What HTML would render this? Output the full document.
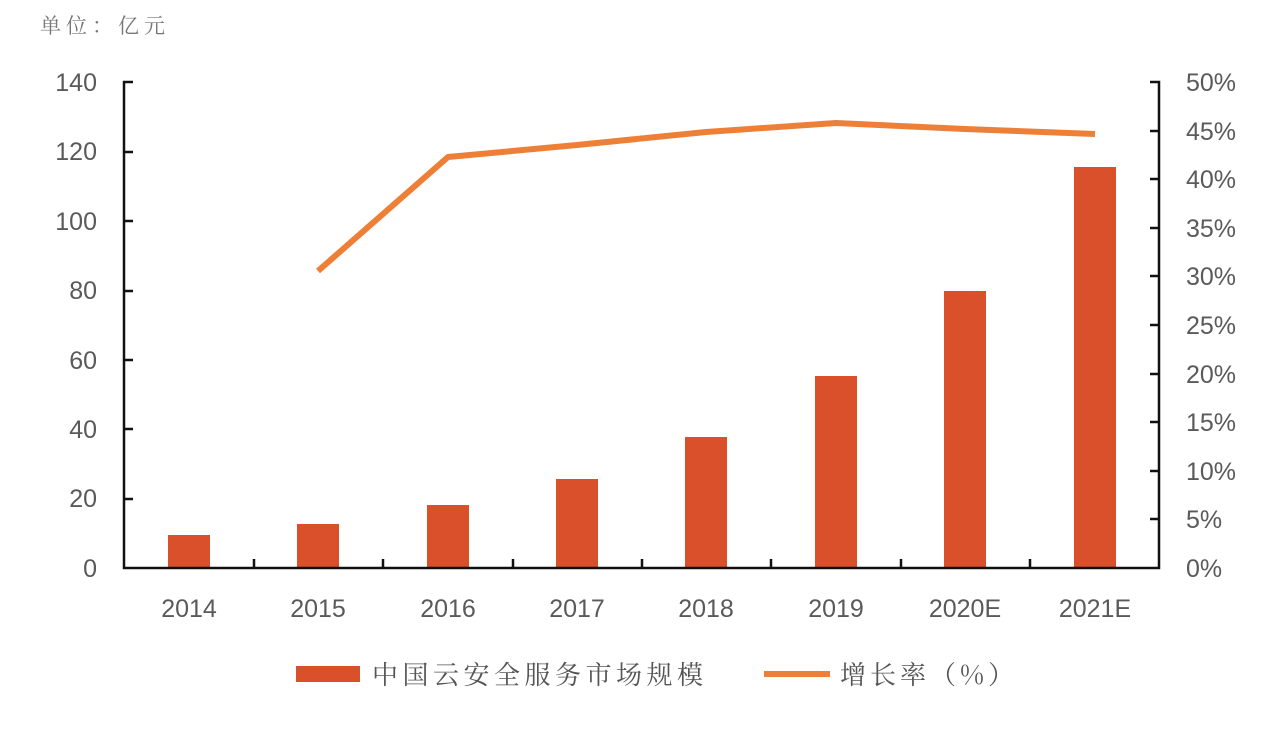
<!DOCTYPE html>
<html><head><meta charset="utf-8"><style>body{margin:0;background:#fff}svg{display:block}</style></head>
<body>
<svg width="1278" height="732" xmlns="http://www.w3.org/2000/svg" font-family="Liberation Sans, 'Noto Sans CJK SC', sans-serif">
<text x="40" y="33" font-size="21" letter-spacing="5" fill="#777" font-family="'Noto Serif CJK SC','Noto Sans CJK SC',serif">单位：亿元</text>
<g fill="#5a5a5a" font-size="25" text-anchor="end">
<text x="97" y="91">140</text><text x="97" y="160">120</text><text x="97" y="230">100</text>
<text x="97" y="299">80</text><text x="97" y="369">60</text><text x="97" y="438">40</text>
<text x="97" y="507">20</text><text x="97" y="577">0</text>
</g>
<g fill="#5a5a5a" font-size="25" text-anchor="start">
<text x="1186" y="91">50%</text><text x="1186" y="140">45%</text><text x="1186" y="188">40%</text>
<text x="1186" y="237">35%</text><text x="1186" y="285">30%</text><text x="1186" y="334">25%</text>
<text x="1186" y="383">20%</text><text x="1186" y="431">15%</text><text x="1186" y="480">10%</text>
<text x="1186" y="528">5%</text><text x="1186" y="577">0%</text>
</g>
<g fill="#D9502A">
<rect x="168" y="535" width="42" height="33"/>
<rect x="297" y="524" width="42" height="44"/>
<rect x="427" y="505" width="42" height="63"/>
<rect x="556" y="479" width="42" height="89"/>
<rect x="685" y="437" width="42" height="131"/>
<rect x="815" y="376" width="42" height="192"/>
<rect x="944" y="291" width="42" height="277"/>
<rect x="1074" y="167" width="42" height="401"/>
</g>
<polyline points="318,271 448,157 577,145 706,132 836,123 965,129 1095,134" fill="none" stroke="#EE7F36" stroke-width="6" stroke-linejoin="round"/>
<g stroke="#111" stroke-width="2.5" fill="none">
<path d="M133,82H124V568H1159V82H1150"/>
<path d="M124,152h9M124,221h9M124,291h9M124,360h9M124,429h9M124,499h9"/>
<path d="M1159,131h-9M1159,179h-9M1159,228h-9M1159,276h-9M1159,325h-9M1159,374h-9M1159,422h-9M1159,471h-9M1159,519h-9"/>
<path d="M254,568v-9M383,568v-9M513,568v-9M642,568v-9M771,568v-9M901,568v-9M1030,568v-9"/>
</g>
<g fill="#5a5a5a" font-size="25" text-anchor="middle">
<text x="189" y="617">2014</text><text x="318" y="617">2015</text><text x="448" y="617">2016</text>
<text x="577" y="617">2017</text><text x="706" y="617">2018</text><text x="836" y="617">2019</text>
<text x="965" y="617">2020E</text><text x="1095" y="617">2021E</text>
</g>
<rect x="296" y="666" width="64" height="16" fill="#D9502A"/>
<text x="372" y="684" font-size="26" letter-spacing="4.5" fill="#555" font-family="'Noto Serif CJK SC','Noto Sans CJK SC',serif">中国云安全服务市场规模</text>
<line x1="764" y1="674" x2="830" y2="674" stroke="#EE7F36" stroke-width="6"/>
<text x="840" y="684" font-size="26" letter-spacing="4" fill="#555" font-family="'Noto Serif CJK SC','Noto Sans CJK SC',serif">增长率（%）</text>
</svg>
</body></html>
